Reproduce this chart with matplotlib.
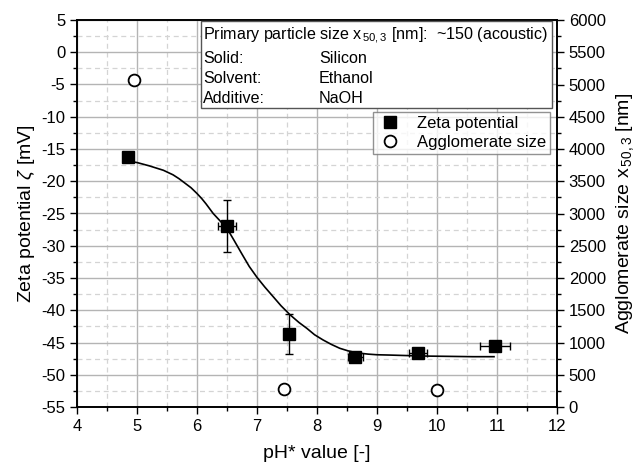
import matplotlib
matplotlib.use("Agg")
import matplotlib.pyplot as plt
from matplotlib.ticker import MultipleLocator
from matplotlib.lines import Line2D
from matplotlib.patches import Rectangle

plt.rcParams['font.family'] = ['Liberation Sans', 'DejaVu Sans']
plt.rcParams['mathtext.fontset'] = 'custom'
plt.rcParams['mathtext.rm'] = 'Liberation Sans'
plt.rcParams['mathtext.it'] = 'Liberation Sans:italic'
plt.rcParams['axes.unicode_minus'] = False

# Zeta potential measurements
ph_zeta = [4.85, 6.5, 7.54, 8.64, 9.69, 10.97]
zeta = [-16.2, -26.9, -43.7, -47.2, -46.6, -45.5]
zeta_xerr = [0.0, 0.15, 0.0, 0.13, 0.15, 0.25]
zeta_yerr = [0.0, 4.05, 3.1, 0.0, 0.0, 0.0]

# Agglomerate size measurements
ph_size = [4.95, 7.45, 10.0]
size_nm = [5070, 280, 260]

# Fitted curve
fit_x = [4.85, 5.0, 5.2, 5.44, 5.6, 5.7, 5.8, 5.9, 6.0, 6.08, 6.15, 6.27, 6.4, 6.5,
         6.62, 6.75, 6.87, 7.0, 7.13, 7.27, 7.4, 7.55, 7.7, 7.83, 7.96, 8.1,
         8.24, 8.38, 8.52, 8.66, 8.85, 9.0, 9.22, 9.4, 9.77, 10.2, 10.6, 10.95]
fit_y = [-16.9, -17.1, -17.6, -18.3, -19.0, -19.6, -20.3, -21.0, -21.9, -22.7,
         -23.5, -25.0, -26.3, -27.3, -29.2, -31.3, -33.2, -34.9, -36.4, -37.9,
         -39.3, -40.7, -41.9, -42.8, -43.8, -44.6, -45.3, -45.9, -46.3, -46.6,
         -46.8, -46.9, -46.95, -47.0, -47.1, -47.15, -47.2, -47.2]

fig = plt.figure(figsize=(6.41, 4.69), dpi=100)
ax = fig.add_axes([77/641, 1-407/469, 480/641, 387/469])
ax2 = ax.twinx()

ax.set_xlim(4, 12)
ax.set_ylim(-55, 5)
ax2.set_ylim(0, 6000)

ax.xaxis.set_major_locator(MultipleLocator(1))
ax.xaxis.set_minor_locator(MultipleLocator(0.5))
ax.yaxis.set_major_locator(MultipleLocator(5))
ax.yaxis.set_minor_locator(MultipleLocator(2.5))
ax2.yaxis.set_major_locator(MultipleLocator(500))
ax2.yaxis.set_minor_locator(MultipleLocator(250))

ax.grid(True, which='major', color='#b4b4b4', lw=1.0, ls='-')
ax.grid(True, which='minor', color='#d4d4d4', lw=0.9, ls=(0, (4, 3)))
ax.set_axisbelow(True)

for a in (ax, ax2):
    a.tick_params(which='major', direction='out', length=5, width=1, labelsize=12, colors='black')
    a.tick_params(which='minor', direction='out', length=3, width=1)
    for s in a.spines.values():
        s.set_linewidth(1.2)

ax.plot(fit_x, fit_y, color='black', lw=1.2, zorder=3)
ax.errorbar(ph_zeta, zeta, xerr=zeta_xerr, yerr=zeta_yerr, fmt='s', color='black',
            ms=8, ecolor='black', elinewidth=1, capsize=3, capthick=1, zorder=4)
ax2.plot(ph_size, size_nm, 'o', mfc='white', mec='black', mew=1.3, ms=8.5, zorder=4)

ax.set_xlabel('pH* value [-]', fontsize=14, labelpad=8)
ax.set_ylabel(r'Zeta potential $\zeta$ [mV]', fontsize=14, labelpad=3)
ax2.set_ylabel(r'Agglomerate size x$_{\,50,3}$ [nm]', fontsize=14, labelpad=6)

# Info box
bx0, bx1 = (201 - 77) / 480, (552 - 77) / 480
by0, by1 = (407 - 108) / 387, (407 - 21) / 387
ax2.add_patch(Rectangle((bx0, by0), bx1 - bx0, by1 - by0, transform=ax2.transAxes,
                        facecolor='white', edgecolor='#555555', lw=1, zorder=5))
c1 = (203 - 77) / 480
c2 = (319 - 77) / 480
rows = [(36, 'Primary particle size x$_{\\,50,3}$ [nm]:  ~150 (acoustic)', None),
        (58, 'Solid:', 'Silicon'),
        (78, 'Solvent:', 'Ethanol'),
        (98, 'Additive:', 'NaOH')]
for yp, t1, t2 in rows:
    yy = (407 - yp) / 387
    ax2.text(c1, yy, t1, transform=ax2.transAxes, fontsize=11.6, va='center', ha='left', zorder=6)
    if t2:
        ax2.text(c2, yy, t2, transform=ax2.transAxes, fontsize=11.6, va='center', ha='left', zorder=6)

handles = [Line2D([], [], marker='s', ls='none', color='black', ms=8),
           Line2D([], [], marker='o', ls='none', mfc='white', mec='black', mew=1.3, ms=8.5)]
leg = ax2.legend(handles, ['Zeta potential', 'Agglomerate size'],
                 loc='upper right', bbox_to_anchor=((550 - 77) / 480, (407 - 112) / 387),
                 bbox_transform=ax2.transAxes, frameon=True, fancybox=False,
                 fontsize=12, handletextpad=0.8, borderpad=0.25, labelspacing=0.2,
                 borderaxespad=0, handlelength=1.6)
leg.get_frame().set_edgecolor('#777777')
leg.get_frame().set_linewidth(1)
leg.set_zorder(7)

fig.savefig('out.png', dpi=100)
